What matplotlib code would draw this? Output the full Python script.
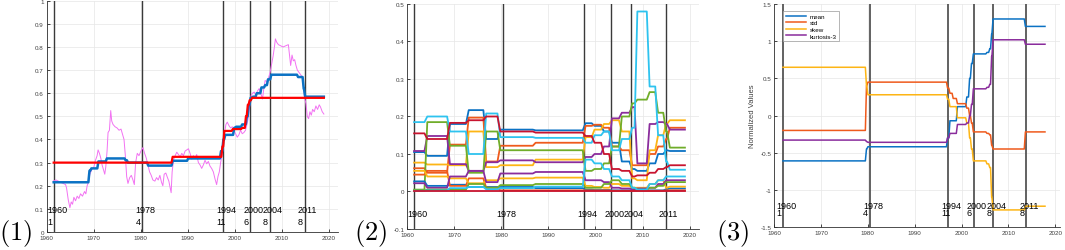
import numpy as np
import matplotlib
matplotlib.use("Agg")
import matplotlib.pyplot as plt

# ---- MATLAB-ish palette ----
PAL = ["#0b72c4", "#ef5a1c", "#fdb515", "#8a2c9c", "#70ad2a", "#2ec3ef", "#c8142f"]
GRID = "#e6e6e6"
TICK = "#404040"

plt.rcParams.update({
    "font.family": "Liberation Sans",
    "mathtext.fontset": "cm",
    "axes.linewidth": 0.6,
    "axes.edgecolor": "#303030",
})

# ---- event markers (shared) ----
EVENT_YEARS = ["1960", "1978", "1994", "2000", "2004", "2011"]
EVENT_COUNTS = ["1", "4", "11", "6", "8", "8"]
BREAKS_12 = [1961.5, 1980.4, 1997.5, 2003.3, 2007.5, 2014.9]
BREAKS_3 = [1961.9, 1980.4, 1997.1, 2002.6, 2006.7, 2013.8]

# ---- panel 1: raw ratio (magenta) + two step fits ----
RAW_T = [1961.41, 1961.98, 1962.47, 1962.97, 1963.53, 1964.03, 1964.24, 1964.59, 1964.95, 1965.23,
         1965.51, 1965.80, 1966.15, 1966.50, 1966.86, 1967.21, 1967.63, 1968.06, 1968.34, 1968.62,
         1968.90, 1969.19, 1969.61, 1970.04, 1970.39, 1970.74, 1970.95, 1971.24, 1971.52, 1971.80,
         1972.08, 1972.37, 1972.58, 1972.86, 1973.07, 1973.36, 1973.64, 1973.85, 1974.13, 1974.56,
         1974.98, 1975.41, 1975.83, 1976.18, 1976.47, 1976.75, 1977.03, 1977.31, 1977.67, 1978.02,
         1978.37, 1978.66, 1978.94, 1979.29, 1979.65, 1980.07, 1980.49, 1980.85, 1981.20, 1981.55,
         1981.91, 1982.26, 1982.61, 1983.04, 1983.39, 1983.75, 1984.10, 1984.45, 1984.73, 1985.02,
         1985.37, 1985.72, 1986.01, 1986.29, 1986.50, 1986.71, 1987.00, 1987.35, 1987.70, 1988.06,
         1988.41, 1988.76, 1989.12, 1989.47, 1989.82, 1990.18, 1990.53, 1990.88, 1991.24, 1991.59,
         1991.94, 1992.30, 1992.65, 1993.00, 1993.36, 1993.71, 1994.06, 1994.42, 1994.77, 1995.12,
         1995.48, 1995.83, 1996.18, 1996.47, 1996.75, 1997.03, 1997.31, 1997.60, 1997.88, 1998.16,
         1998.45, 1998.80, 1999.15, 1999.51, 1999.86, 2000.21, 2000.57, 2000.92, 2001.27, 2001.63,
         2001.98, 2002.33, 2002.69, 2002.97, 2003.25, 2003.53, 2003.82, 2004.17, 2004.52, 2004.88,
         2005.23, 2005.58, 2005.94, 2006.22, 2006.50, 2006.86, 2007.21, 2007.56, 2007.92, 2008.20,
         2008.48, 2008.69, 2008.98, 2009.33, 2009.82, 2010.32, 2010.88, 2011.45, 2011.73, 2011.94,
         2012.23, 2012.51, 2012.79, 2013.07, 2013.36, 2013.71, 2014.06, 2014.42, 2014.70, 2014.91,
         2015.19, 2015.48, 2015.76, 2016.04, 2016.33, 2016.61, 2016.96, 2017.31, 2017.67, 2018.02,
         2018.30, 2018.66, 2019.01]
RAW_V = [0.22, 0.225, 0.22, 0.215, 0.21, 0.205, 0.19, 0.14, 0.105, 0.13,
         0.12, 0.15, 0.135, 0.155, 0.145, 0.165, 0.155, 0.175, 0.165, 0.20,
         0.215, 0.25, 0.27, 0.28, 0.31, 0.33, 0.355, 0.34, 0.32, 0.29,
         0.27, 0.25, 0.28, 0.35, 0.43, 0.44, 0.525, 0.48, 0.465, 0.455,
         0.45, 0.44, 0.445, 0.42, 0.40, 0.33, 0.24, 0.21, 0.235, 0.245,
         0.225, 0.205, 0.30, 0.34, 0.33, 0.35, 0.365, 0.34, 0.32, 0.29,
         0.26, 0.245, 0.225, 0.22, 0.235, 0.225, 0.245, 0.215, 0.20, 0.25,
         0.255, 0.235, 0.22, 0.19, 0.17, 0.26, 0.31, 0.33, 0.345, 0.335,
         0.325, 0.34, 0.33, 0.35, 0.355, 0.36, 0.34, 0.315, 0.33, 0.32,
         0.335, 0.30, 0.29, 0.275, 0.29, 0.31, 0.295, 0.305, 0.285, 0.275,
         0.26, 0.23, 0.205, 0.24, 0.26, 0.30, 0.33, 0.37, 0.43, 0.465,
         0.475, 0.46, 0.45, 0.455, 0.44, 0.425, 0.41, 0.42, 0.44, 0.425,
         0.43, 0.44, 0.47, 0.50, 0.55, 0.59, 0.60, 0.605, 0.59, 0.61,
         0.62, 0.60, 0.575, 0.62, 0.655, 0.65, 0.665, 0.69, 0.73, 0.76,
         0.80, 0.835, 0.82, 0.81, 0.805, 0.80, 0.805, 0.81, 0.76, 0.72,
         0.765, 0.74, 0.745, 0.72, 0.70, 0.69, 0.68, 0.67, 0.62, 0.58,
         0.555, 0.50, 0.49, 0.52, 0.505, 0.53, 0.52, 0.545, 0.53, 0.55,
         0.54, 0.52, 0.51]

FIT_T = [1961.5, 1969.0, 1969.4, 1970.9, 1972.7, 1976.7, 1977.2, 1981.5, 1986.7, 1990.0,
         1997.0, 1997.5, 1997.9, 1999.8, 2000.2, 2001.5, 2002.5, 2002.9, 2003.3, 2003.8,
         2004.6, 2005.6, 2006.4, 2007.0, 2007.7, 2013.4, 2014.6, 2014.9, 2019.0]
FIT_V = [0.215, 0.265, 0.275, 0.305, 0.318, 0.31, 0.30, 0.287, 0.308, 0.318,
         0.35, 0.40, 0.42, 0.45, 0.455, 0.465, 0.50, 0.55, 0.58, 0.585,
         0.60, 0.625, 0.635, 0.66, 0.68, 0.67, 0.62, 0.585]

SEG_T = [1961.5, 1986.7, 1997.3, 1997.7, 1999.5, 2001.5, 2002.3, 2002.7, 2003.1, 2003.6, 2019.0]
SEG_V = [0.30, 0.325, 0.37, 0.437, 0.445, 0.45, 0.50, 0.55, 0.57, 0.58]

# ---- panel 2: weights, piecewise constant over these segment edges ----
W_EDGES = [1961.5, 1964.0, 1968.8, 1972.8, 1976.5, 1979.5, 1987.0, 1997.6, 1999.5, 2001.5,
           2003.2, 2005.3, 2007.5, 2008.6, 2011.2, 2013.0, 2014.7, 2015.5, 2019.0]
WEIGHTS = [
    [0.105, 0.095, 0.18, 0.217, 0.14, 0.165, 0.163, 0.182, 0.175, 0.16, 0.13, 0.08, 0.06, 0.055, 0.075, 0.10, 0.11, 0.108],
    [0.062, 0.05, 0.125, 0.197, 0.08, 0.122, 0.13, 0.175, 0.178, 0.17, 0.12, 0.11, 0.07, 0.07, 0.10, 0.12, 0.14, 0.17],
    [0.077, 0.072, 0.07, 0.16, 0.065, 0.07, 0.085, 0.145, 0.165, 0.18, 0.19, 0.16, 0.035, 0.03, 0.11, 0.15, 0.18, 0.19],
    [0.108, 0.148, 0.073, 0.055, 0.078, 0.083, 0.078, 0.092, 0.10, 0.12, 0.195, 0.21, 0.225, 0.075, 0.18, 0.185, 0.18, 0.165],
    [0.005, 0.185, 0.122, 0.05, 0.16, 0.11, 0.11, 0.055, 0.06, 0.075, 0.12, 0.20, 0.235, 0.245, 0.265, 0.21, 0.16, 0.117],
    [0.185, 0.20, 0.16, 0.10, 0.208, 0.145, 0.143, 0.13, 0.15, 0.16, 0.11, 0.14, 0.17, 0.48, 0.28, 0.15, 0.08, 0.058],
    [0.155, 0.14, 0.183, 0.19, 0.20, 0.16, 0.157, 0.148, 0.13, 0.10, 0.06, 0.055, 0.04, 0.043, 0.05, 0.06, 0.065, 0.07],
    [0.027, 0.015, 0.018, 0.012, 0.012, 0.012, 0.009, 0.005, 0.004, 0.004, 0.003, 0.003, 0.003, 0.003, 0.003, 0.003, 0.006, 0.008],
    [0.045, 0.055, 0.015, 0.035, 0.01, 0.003, 0.003, 0.003, 0.003, 0.003, 0.002, 0.002, 0.002, 0.002, 0.002, 0.002, 0.003, 0.003],
    [0.055, 0.04, 0.035, 0.022, 0.03, 0.035, 0.037, 0.015, 0.012, 0.01, 0.02, 0.015, 0.01, 0.01, 0.02, 0.03, 0.01, 0.013],
    [0.022, 0.01, 0.04, 0.055, 0.025, 0.048, 0.052, 0.03, 0.03, 0.025, 0.01, 0.008, 0.006, 0.008, 0.01, 0.02, 0.03, 0.03],
    [0.003, 0.005, 0.005, 0.02, 0.01, 0.017, 0.02, 0.01, 0.01, 0.02, 0.03, 0.02, 0.01, 0.005, 0.01, 0.015, 0.025, 0.025],
    [0.002, 0.003, 0.009, 0.012, 0.006, 0.009, 0.013, 0.085, 0.075, 0.06, 0.04, 0.03, 0.01, 0.005, 0.02, 0.03, 0.04, 0.04],
    [0.0, 0.0, 0.0, 0.0, 0.0, 0.0, 0.0, 0.0, 0.0, 0.0, 0.0, 0.0, 0.0, 0.0, 0.0, 0.0, 0.0, 0.0],
]

# ---- panel 3: normalized moments ----
MOM_T = [1961.9, 1979.6, 1979.9, 1996.9, 1997.4, 1998.1, 1999.0, 2001.0, 2001.6, 2002.0,
         2002.4, 2005.3, 2005.9, 2006.3, 2006.6, 2013.5, 2017.8]
MOM_NAMES = ["mean", "std", "skew", "kurtosis-3"]
MOM_MEAN = [-0.61, -0.45, -0.42, -0.30, -0.07, -0.07, 0.12, 0.25, 0.50, 0.70, 0.83, 0.85, 0.90, 1.10, 1.30, 1.20]
MOM_STD = [-0.20, 0.40, 0.45, 0.37, 0.30, 0.23, 0.16, 0.10, 0.00, -0.10, -0.22, -0.24, -0.26, -0.40, -0.45, -0.22]
MOM_SKEW = [0.65, 0.40, 0.28, 0.22, 0.12, 0.12, -0.03, -0.10, -0.30, -0.45, -0.61, -0.65, -0.70, -1.10, -1.27, -1.22]
MOM_KURT = [-0.33, -0.35, -0.36, -0.30, -0.24, -0.24, -0.12, -0.10, 0.00, 0.15, 0.36, 0.38, 0.42, 0.80, 1.02, 0.96]


def _style(ax, yticks):
    ax.set_xlim(1960, 2022)
    ax.set_xticks(range(1960, 2021, 10))
    ax.set_yticks(yticks)
    ax.set_yticklabels([f"{v:g}" for v in yticks])
    ax.grid(True, color=GRID, lw=0.5)
    ax.set_axisbelow(True)
    for s in ("top", "right"):
        ax.spines[s].set_visible(False)
    ax.tick_params(direction="in", length=2, width=0.5, labelsize=4.5,
                   labelcolor=TICK, pad=2)


def _events(ax, breaks, y1, y2=None, lw=1.0, col="#3a3a3a"):
    for b, yr, n in zip(breaks, EVENT_YEARS, EVENT_COUNTS):
        ax.axvline(b, color=col, lw=lw, zorder=1)
        ax.text(b - 1.45, y1, yr, fontsize=6.5, va="center", ha="left", zorder=5)
        if y2 is not None:
            ax.text(b - 1.45, y2, n, fontsize=6.5, va="center", ha="left", zorder=5)


def _ramp(edges, vals, w=0.25):
    """Piecewise-constant values on [edges[i], edges[i+1]) with short sloped
    transitions, like a smoothed monthly series."""
    xs, ys = [edges[0]], [vals[0]]
    for i in range(1, len(vals)):
        xs += [edges[i] - w, edges[i] + w]
        ys += [vals[i - 1], vals[i]]
    xs.append(edges[-1]); ys.append(vals[-1])
    return xs, ys


fig = plt.figure(figsize=(10.65, 2.51), dpi=100)
ax1 = fig.add_axes([0.0438, 0.0717, 0.2735, 0.9215])
ax2 = fig.add_axes([0.3822, 0.0837, 0.2742, 0.8964])
ax3 = fig.add_axes([0.7268, 0.0916, 0.2685, 0.8880])

# --- (1) ---
_style(ax1, [round(0.1 * i, 1) for i in range(11)])
ax1.set_ylim(0, 1)
_events(ax1, BREAKS_12, 0.096, 0.046)
ax1.plot(RAW_T, RAW_V, color="#f272f2", lw=0.7, zorder=2)
ax1.plot(*_ramp(FIT_T, FIT_V, 0.12), color=PAL[0], lw=1.8, zorder=3)
ax1.plot(*_ramp(SEG_T, SEG_V, 0.12), color="#ff0000", lw=1.6, zorder=4)

# --- (2) ---
_style(ax2, [round(-0.1 + 0.1 * i, 1) for i in range(7)])
ax2.set_ylim(-0.1, 0.5)
_events(ax2, BREAKS_12, -0.06)
for i, w in enumerate(WEIGHTS):
    ax2.plot(*_ramp(W_EDGES, w, 0.3), color=PAL[i % 7], lw=1.3, zorder=3)

# --- (3) ---
_style(ax3, [-1.5, -1, -0.5, 0, 0.5, 1, 1.5])
ax3.set_xlim(1960, 2021)
ax3.set_ylim(-1.5, 1.5)
_events(ax3, BREAKS_3, -1.205, -1.30, lw=1.3, col="#555555")
for i, (name, vals) in enumerate(zip(MOM_NAMES, [MOM_MEAN, MOM_STD, MOM_SKEW, MOM_KURT])):
    ax3.plot(*_ramp(MOM_T, vals, 0.12), color=PAL[i], lw=1.1, zorder=3, label=name)
ax3.set_ylabel("Normalized Values", fontsize=5.5, color=TICK, labelpad=3)
leg = ax3.legend(loc="upper left", bbox_to_anchor=(0.02, 0.985), fontsize=4.5,
                 handlelength=3.2, handletextpad=0.6, borderpad=0.45,
                 labelspacing=0.2, fancybox=False, framealpha=1)
leg.get_frame().set_edgecolor("#999999")
leg.get_frame().set_linewidth(0.5)

# panel tags
for x, tag in [(0.015, "(1)"), (0.348, "(2)"), (0.688, "(3)")]:
    fig.text(x, 0.068, rf"$\mathrm{{{tag}}}$", fontsize=19, ha="center", va="center")

fig.savefig("out.png", dpi=100)
